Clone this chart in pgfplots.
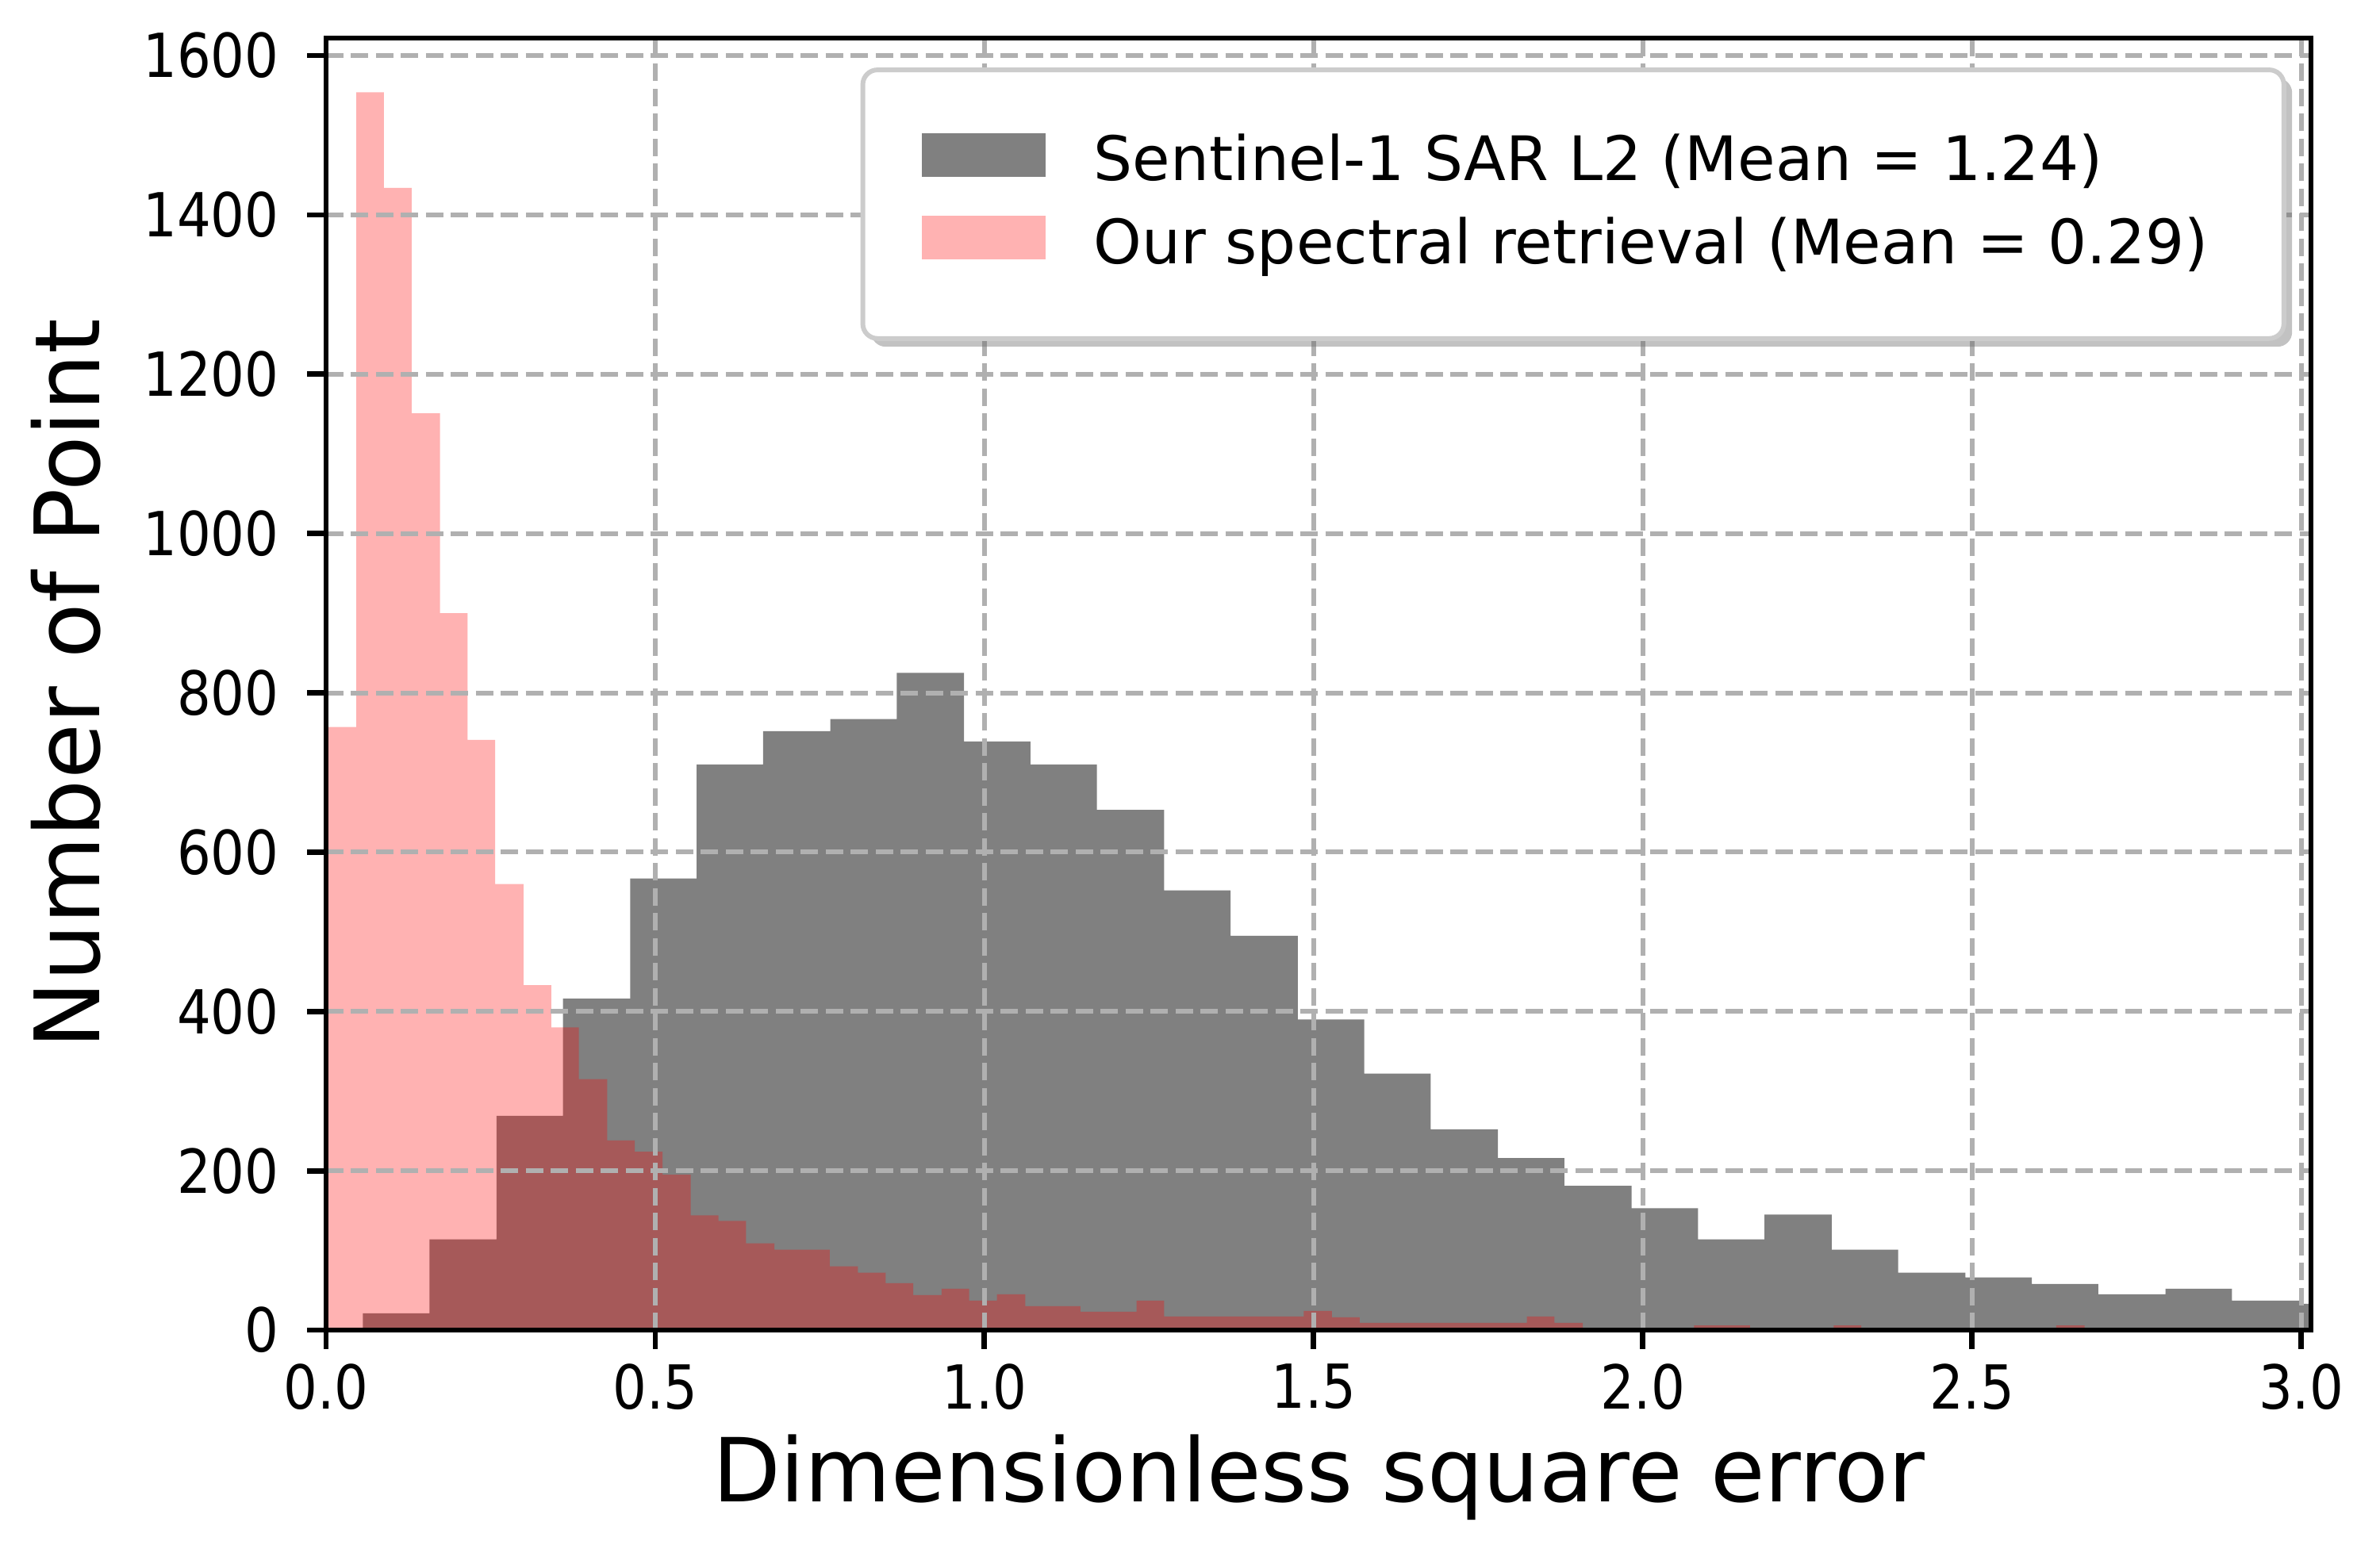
\documentclass[border=0pt]{standalone}
\usepackage{fontspec}
\setmainfont{DejaVu Sans}
\newfontfamily\tickfam{DejaVu Sans}[FakeStretch=0.88]
\usepackage{pgfplots}
\usepackage{pgfplotstable}
\pgfplotsset{compat=1.18}
\usetikzlibrary{shadows}
\definecolor{histgray}{RGB}{128,128,128}
\definecolor{gridgray}{RGB}{176,176,176}
\definecolor{leggray}{RGB}{204,204,204}
\makeatletter
\tikzset{nopreact/.code={\let\tikz@preactions\pgfutil@empty}}
\makeatother
\pgfplotsset{patchlegend/.style={legend image code/.code={\fill[##1,sharp corners,nopreact] (0bp,-2.3bp) rectangle (21bp,5.1bp);}}}

\pgfplotstableread{
x y
0.056 21
0.157 114
0.259 269
0.360 416
0.462 567
0.563 710
0.664 752
0.766 767
0.867 825
0.969 739
1.070 710
1.171 653
1.273 552
1.374 495
1.476 390
1.577 322
1.678 252
1.780 216
1.881 181
1.983 153
2.084 114
2.185 145
2.287 101
2.388 72
2.490 66
2.591 58
2.692 45
2.794 52
2.895 37
2.997 33
3.098 33
}\graydata

\pgfplotstableread{
x y
0.003 757
0.046 1554
0.088 1434
0.130 1151
0.173 900
0.215 741
0.257 560
0.300 433
0.342 380
0.384 315
0.427 238
0.469 224
0.511 195
0.554 144
0.596 137
0.638 109
0.681 101
0.723 101
0.765 80
0.808 72
0.850 59
0.892 44
0.935 52
0.977 37
1.019 45
1.062 30
1.104 30
1.146 23
1.189 23
1.231 37
1.273 17
1.316 17
1.358 17
1.401 17
1.443 17
1.485 24
1.528 16
1.570 9
1.612 9
1.655 9
1.697 9
1.739 9
1.782 9
1.824 17
1.866 9
1.909 1
1.951 1
1.993 1
2.036 1
2.078 6
2.120 6
2.163 1
2.205 0
2.247 1
2.290 6
2.332 1
2.374 0
2.417 1
2.459 0
2.501 0
2.544 1
2.586 0
2.628 6
2.671 1
2.713 0
2.755 0
2.798 1
2.840 0
2.882 0
2.925 0
2.967 1
3.009 0
3.052 0
}\pinkdata

\begin{document}
\begin{tikzpicture}
\begin{axis}[
  scale only axis,
  width=336.85bp, height=219.32bp,
  xmin=0, xmax=3.015, ymin=0, ymax=1622,
  xtick={0,0.5,1,1.5,2,2.5,3},
  ytick={0,200,400,600,800,1000,1200,1400,1600},
  scaled ticks=false,
  /pgf/number format/assume math mode=true,
  ticklabel style={font=\tickfam\fontsize{10.3bp}{12bp}\selectfont, inner sep=0pt},
  xticklabel style={anchor=north, yshift=-2.3bp,
    /pgf/number format/fixed, /pgf/number format/fixed zerofill,
    /pgf/number format/precision=1},
  yticklabel style={anchor=east, xshift=-4.6bp, /pgf/number format/1000 sep={}},
  tick align=outside, tick pos=left,
  major tick length=3.2bp,
  every tick/.style={black, line width=0.9bp},
  axis line style={black, line width=0.9bp},
  grid=major,
  grid style={color=gridgray, line width=0.8bp, dash pattern=on 2.96bp off 1.28bp},
  axis on top,
  xlabel={Dimensionless square error},
  ylabel={Number of Point},
  xlabel style={font=\fontsize{15bp}{18bp}\selectfont, inner sep=0pt,
    at={([yshift=-29.1bp]axis description cs:0.5,0)}, anchor=base},
  ylabel style={font=\fontsize{15.3bp}{18bp}\selectfont, inner sep=0pt,
    at={([xshift=-38.37bp]axis description cs:0,0.5)}, anchor=base},
  legend cell align=left,
  legend style={at={(1,1)}, anchor=north east, xshift=-4.2bp, yshift=-5bp,
    draw=leggray, line width=0.8bp, rounded corners=2.5bp, fill=white,
    drop shadow={shadow xshift=1.4bp, shadow yshift=-1.4bp, opacity=0.4, fill=black!60},
    inner xsep=10bp, inner ysep=10.7bp, row sep=4bp, column sep=8.2bp,
    nodes={inner sep=0pt, text height=8bp, text depth=2bp},
    font=\fontsize{10.4bp}{12.5bp}\selectfont},
]
\addplot[const plot, fill=histgray, draw=none, patchlegend]
  table[x=x,y=y]{\graydata} \closedcycle;
\addlegendentry{Sentinel-1 SAR L2 (Mean = 1.24)\hspace*{2.8bp}}
\addplot[const plot, fill=red, fill opacity=0.3, draw=none, patchlegend]
  table[x=x,y=y]{\pinkdata} \closedcycle;
\addlegendentry{Our spectral retrieval (Mean = 0.29)\hspace*{2.8bp}}
\end{axis}
\pgfresetboundingbox
\path[use as bounding box] ([xshift=-55.33bp,yshift=-40.26bp]current axis.south west) rectangle ([xshift=7.81bp,yshift=6.46bp]current axis.north east);
\end{tikzpicture}
\end{document}
